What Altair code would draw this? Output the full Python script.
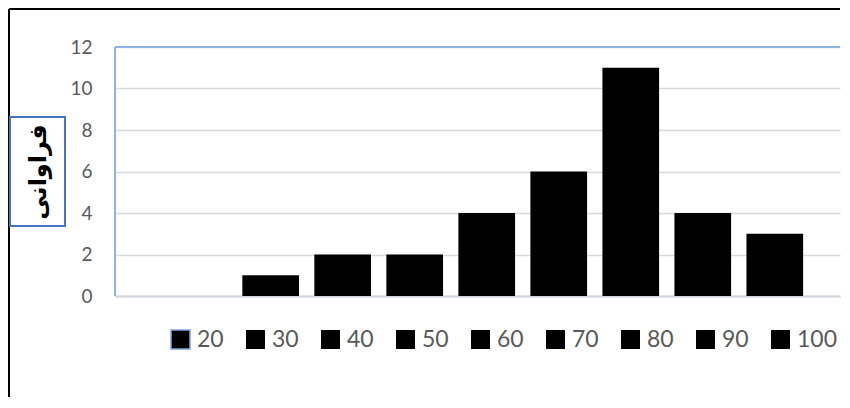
import altair as alt
import pandas as pd

categories = ["20", "30", "40", "50", "60", "70", "80", "90", "100"]
counts = [0, 1, 2, 2, 4, 6, 11, 4, 3]
y_ticks = [0, 2, 4, 6, 8, 10, 12]
y_title = "فراوانی"

W = 725
H = 249

df = pd.DataFrame({"cat": categories, "value": counts})
one = pd.DataFrame({"k": [0]})

fill_range = ["black"] * len(categories)
stroke_range = ["#7FA7D9"] + ["transparent"] * (len(categories) - 1)

legend_kw = dict(
    title=None,
    orient="none",
    legendX=54,
    legendY=281,
    direction="horizontal",
    symbolType="square",
    symbolSize=360,
    labelFont="Lato",
    labelFontSize=23,
    labelColor="#595959",
    labelOffset=5,
    columnPadding=19,
    padding=0,
)

bars = alt.Chart(df).transform_filter("datum.value > 0").mark_bar(strokeWidth=2).encode(
    x=alt.X(
        "cat:N",
        sort=categories,
        title=None,
        scale=alt.Scale(domain=categories, paddingInner=0.213, paddingOuter=0.64, align=0.6),
        axis=alt.Axis(labels=False, ticks=False, domain=True, domainColor="#D0D6DE",
                      domainWidth=2, grid=False),
    ),
    y=alt.Y(
        "value:Q",
        title=y_title,
        scale=alt.Scale(domain=[0, 12], nice=False),
        axis=alt.Axis(
            values=y_ticks, grid=True, gridColor="#D9D9D9", gridWidth=1.5,
            ticks=False, tickSize=0, domain=False,
            labelFont="Lato", labelFontSize=19, labelColor="#595959", labelPadding=23,
            titleX=-77, titleY=124.5, titleAngle=270, titleFont="DejaVu Sans",
            titleFontWeight="bold", titleFontSize=24, titleColor="black",
            titleAlign="center", titleBaseline="middle",
        ),
    ),
    color=alt.Color("cat:N", sort=categories,
                    scale=alt.Scale(domain=categories, range=fill_range),
                    legend=alt.Legend(**legend_kw)),
    stroke=alt.Stroke("cat:N", sort=categories,
                      scale=alt.Scale(domain=categories, range=stroke_range),
                      legend=alt.Legend(**legend_kw)),
)

plot_top = alt.Chart(one).mark_rule(color="#8EB4E3", strokeWidth=2).encode(
    x=alt.value(0), x2=alt.value(W), y=alt.value(0))
plot_left = alt.Chart(one).mark_rule(color="#8EB4E3", strokeWidth=2).encode(
    x=alt.value(0), y=alt.value(0), y2=alt.value(H))
outer_top = alt.Chart(one).mark_rule(color="black", strokeWidth=2).encode(
    x=alt.value(-106), x2=alt.value(W), y=alt.value(-38))
outer_left = alt.Chart(one).mark_rule(color="black", strokeWidth=2).encode(
    x=alt.value(-106), y=alt.value(-38), y2=alt.value(350))
box = alt.Chart(one).mark_rect(fill="transparent", stroke="#4472C4", strokeWidth=2).encode(
    x=alt.value(-105), x2=alt.value(-50), y=alt.value(70), y2=alt.value(179))

chart = alt.layer(bars, plot_top, plot_left, outer_top, outer_left, box).properties(
    width=W, height=H, padding=0
).configure_view(strokeWidth=0)

chart.save("out.html", embed_options={"renderer": "svg", "actions": False})
